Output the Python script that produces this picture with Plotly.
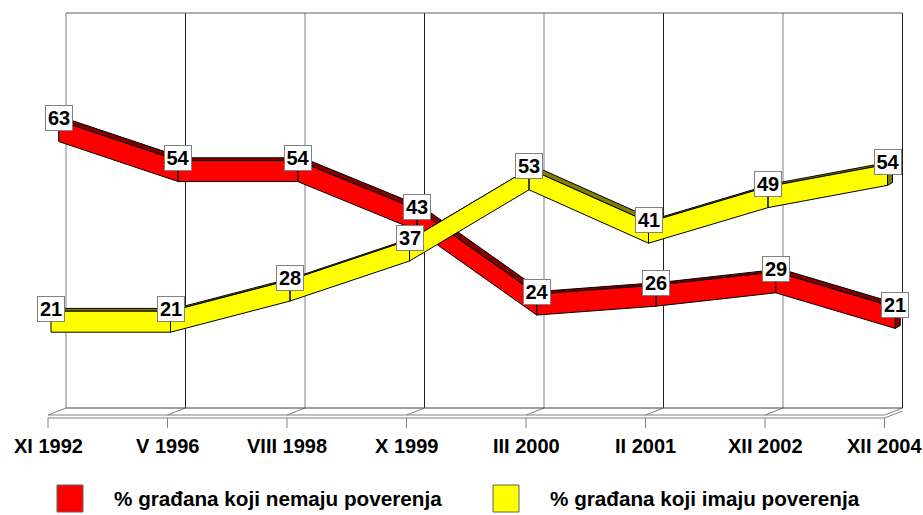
import plotly.graph_objects as go

# ---------------- data ----------------
categories = ["XI 1992", "V 1996", "VIII 1998", "X 1999", "III 2000", "II 2001", "XII 2002", "XII 2004"]
no_trust = [63, 54, 54, 43, 24, 26, 29, 21]     # % građana koji nemaju poverenja
trust = [21, 21, 28, 37, 53, 41, 49, 54]        # % građana koji imaju poverenja
series_names = ["% građana koji nemaju poverenja", "% građana koji imaju poverenja"]

# ---------------- geometry helpers ----------------
W, H = 923, 515
PX_PER_CAT = 119.5
PX_PER_VAL = 4.45
X_LEFT_PX = 48
Y_ZERO_PX = 418


def dx(p):
    return p / PX_PER_CAT


def dv(p):
    return p / PX_PER_VAL


x_range = [-dx(X_LEFT_PX), dx(W - X_LEFT_PX)]
y_range = [dv(Y_ZERO_PX - H), dv(Y_ZERO_PX)]

THICK = dv(21)                 # vertical thickness of a ribbon
DEPTH = (dx(5), dv(2.8))       # visible depth of a ribbon (to the back)
WALL_X0 = dx(18)               # back wall offset
WALL_V0 = dv(10)
WALL_TOP = dv(Y_ZERO_PX - 13)
FLOOR_TOP = dv(3)

FONT = "Liberation Sans, Arial, sans-serif"

series = [
    dict(values=no_trust, name=series_names[0], xoff=dx(10.7), voff=3.85,
         face="#FF0000", side="#800000"),
    dict(values=trust, name=series_names[1], xoff=dx(3.0), voff=3.0,
         face="#FFFF00", side="#808000"),
]

fig = go.Figure()


def add_polys(polys, fill):
    xs, ys = [], []
    for poly in polys:
        for (px, py) in poly:
            xs.append(px)
            ys.append(py)
        xs.append(poly[0][0])
        ys.append(poly[0][1])
        xs.append(None)
        ys.append(None)
    fig.add_trace(go.Scatter(x=xs, y=ys, mode="lines", fill="toself", fillcolor=fill,
                             line=dict(color="black", width=1), hoverinfo="skip",
                             showlegend=False))


annotations = []
for s in series:
    pts = [(i + s["xoff"], v + s["voff"]) for i, v in enumerate(s["values"])]
    ax, av = DEPTH
    tops, faces = [], []
    for (x0, y0), (x1, y1) in zip(pts[:-1], pts[1:]):
        tops.append([(x0, y0), (x1, y1), (x1 + ax, y1 + av), (x0 + ax, y0 + av)])
        faces.append([(x0, y0), (x1, y1), (x1, y1 - THICK), (x0, y0 - THICK)])
    xl, yl = pts[-1]
    cap = [(xl, yl), (xl + ax, yl + av), (xl + ax, yl + av - THICK), (xl, yl - THICK)]
    add_polys(tops, s["side"])
    add_polys([cap], s["side"])
    add_polys(faces, s["face"])
    for (x, y), v in zip(pts, s["values"]):
        annotations.append(dict(
            x=x, y=y + dv(2.5), xref="x", yref="y", text=str(v), showarrow=False,
            xanchor="center", yanchor="middle", width=26, height=24,
            bgcolor="white", bordercolor="#808080", borderwidth=1, borderpad=0,
            font=dict(family=FONT, size=20, color="black", weight="bold")))

# ---------------- back wall & floor ----------------
shapes = []
grid_col = "#808080"
n = len(categories)
for i in range(n):
    xb = i + WALL_X0
    wall_col = "#202020" if i % 2 == 1 else "#808080"
    shapes.append(dict(type="line", xref="x", yref="y", x0=xb, x1=xb, y0=WALL_V0, y1=WALL_TOP,
                       line=dict(color=wall_col, width=1), layer="below"))
    # slanted floor divider
    shapes.append(dict(type="line", xref="x", yref="y", x0=i, x1=xb, y0=FLOOR_TOP, y1=WALL_V0,
                       line=dict(color=grid_col, width=1), layer="below"))
    # tick
    shapes.append(dict(type="line", xref="x", yref="y", x0=i, x1=i, y0=0, y1=-dv(10),
                       line=dict(color=grid_col, width=1), layer="below"))
    annotations.append(dict(
        x=i, y=-dv(28), xref="x", yref="y", text=categories[i], showarrow=False,
        xanchor="center", yanchor="middle",
        font=dict(family=FONT, size=20, color="black", weight="bold")))

# top edge of wall
shapes.append(dict(type="line", xref="x", yref="y", x0=WALL_X0, x1=n - 1 + WALL_X0,
                   y0=WALL_TOP, y1=WALL_TOP, line=dict(color="#606060", width=1), layer="below"))
# floor back edge
shapes.append(dict(type="line", xref="x", yref="y", x0=WALL_X0, x1=n - 1 + WALL_X0,
                   y0=WALL_V0, y1=WALL_V0, line=dict(color="#404040", width=1), layer="below"))
# floor front edge (two lines -> thickness)
for yy in (FLOOR_TOP, 0):
    shapes.append(dict(type="line", xref="x", yref="y", x0=0, x1=n - 1,
                       y0=yy, y1=yy, line=dict(color=grid_col, width=1), layer="below"))
shapes.append(dict(type="line", xref="x", yref="y", x0=n - 1, x1=n - 1 + WALL_X0,
                   y0=0, y1=WALL_V0 - FLOOR_TOP, line=dict(color=grid_col, width=1), layer="below"))

# ---------------- legend ----------------
legend_items = [(57, 112, series[0]), (493, 548, series[1])]
for sq_x, tx, s in legend_items:
    shapes.append(dict(type="rect", xref="paper", yref="paper",
                       x0=sq_x / W, x1=(sq_x + 26) / W, y0=1 - 512 / H, y1=1 - 485 / H,
                       fillcolor=s["face"], line=dict(color="#606060", width=1)))
    annotations.append(dict(
        x=tx / W, y=1 - 498 / H, xref="paper", yref="paper", text=s["name"], showarrow=False,
        xanchor="left", yanchor="middle",
        font=dict(family=FONT, size=20.7, color="black", weight="bold")))

fig.update_layout(
    width=W, height=H, autosize=False,
    margin=dict(l=0, r=0, t=0, b=0, pad=0),
    paper_bgcolor="white", plot_bgcolor="white",
    xaxis=dict(range=x_range, visible=False, fixedrange=True),
    yaxis=dict(range=y_range, visible=False, fixedrange=True),
    shapes=shapes, annotations=annotations, showlegend=False,
)

fig.write_html("out.html", config={"displayModeBar": False},
               post_script="document.body.style.margin='0';document.body.style.overflow='hidden';")
